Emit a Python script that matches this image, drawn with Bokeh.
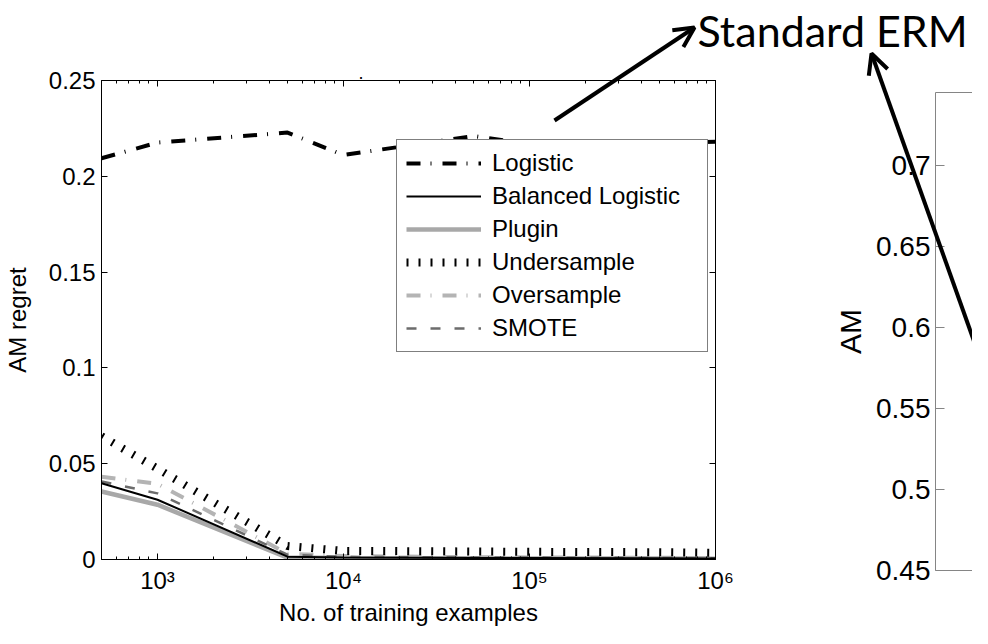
from bokeh.plotting import figure
from bokeh.models import (FixedTicker, LogAxis, LinearAxis, Range1d, Arrow, OpenHead,
                          Label, Legend, LegendItem)
from bokeh.layouts import row
from bokeh.embed import file_html
from bokeh.resources import INLINE

# ---------------- data ----------------
n_train = [500, 1000, 5000, 10000, 50000, 100000, 500000, 1000000]
logistic = [0.2094, 0.2176, 0.2228, 0.2111, 0.2210, 0.2168, 0.2172, 0.2180]
balanced_logistic = [0.0398, 0.0312, 0.0015, 0.0010, 0.0008, 0.0008, 0.0006, 0.0005]
plugin = [0.0355, 0.0286, 0.0010, 0.0008, 0.0006, 0.0005, 0.0005, 0.0004]
undersample = [0.0644, 0.0474, 0.0070, 0.0045, 0.0042, 0.0040, 0.0038, 0.0035]
oversample = [0.0432, 0.0395, 0.0030, 0.0018, 0.0012, 0.0011, 0.0009, 0.0008]
smote = [0.0407, 0.0345, 0.0025, 0.0014, 0.0011, 0.0010, 0.0008, 0.0007]
series_names = ["Logistic", "Balanced Logistic", "Plugin", "Undersample", "Oversample", "SMOTE"]

x_ticks = [1000, 10000, 100000, 1000000]
x_tick_labels = ["10³", "10⁴", "10⁵", "10⁶"]
x_minor_ticks = [m * 10 ** e for e in (2, 3, 4, 5) for m in range(2, 10) if m * 10 ** e > 500]
y_ticks = [0, 0.05, 0.1, 0.15, 0.2, 0.25]
y_tick_labels = ["0", "0.05", "0.1", "0.15", "0.2", "0.25"]
am_ticks = [0.45, 0.5, 0.55, 0.6, 0.65, 0.7]
am_tick_labels = ["0.45", "0.5", "0.55", "0.6", "0.65", "0.7"]

x_label = "No. of training examples"
y_label = "AM regret"
am_label = "AM"
callout = "Standard ERM"

# ---------------- layout constants (page pixels) ----------------
FONT = "Liberation Sans"
W, H = 972, 628
X0, X1, Y0, Y1 = 103, 723, 88, 572          # left chart frame on the page
XMIN, XMAX, YMIN, YMAX = 500, 1e6, 0, 0.25

p = figure(width=W, height=H, x_axis_type="log",
           x_range=Range1d(XMIN, XMAX), y_range=Range1d(YMIN, YMAX),
           output_backend="svg", toolbar_location=None, frame_align=False,
           min_border_left=X0 - 8, min_border_right=8 + W - X1,
           min_border_top=Y0 - 8, min_border_bottom=8 + H - Y1,
           background_fill_color="white", border_fill_color="white",
           outline_line_color="black", outline_line_width=1)
p.grid.visible = False


def style_axis(ax, labels=True, size="24px"):
    ax.axis_line_color = "black"
    ax.axis_line_width = 1
    ax.major_tick_in = 6
    ax.major_tick_out = 0
    ax.minor_tick_in = 3
    ax.minor_tick_out = 0
    ax.major_tick_line_color = "black"
    ax.minor_tick_line_color = "black"
    ax.major_label_text_font = FONT
    ax.major_label_text_font_size = size
    ax.major_label_text_color = "black" if labels else None
    ax.axis_label_text_font = FONT
    ax.axis_label_text_font_size = size
    ax.axis_label_text_font_style = "normal"
    ax.axis_label_text_color = "black"


xa = p.xaxis[0]
xa.ticker = FixedTicker(ticks=x_ticks, minor_ticks=x_minor_ticks)
xa.major_label_overrides = dict(zip(x_ticks, x_tick_labels))
style_axis(xa)
xa.axis_label = x_label
xa.major_label_standoff = 7
xa.axis_label_standoff = 2

ya = p.yaxis[0]
ya.ticker = FixedTicker(ticks=y_ticks, minor_ticks=[])
ya.major_label_overrides = dict(zip(y_ticks, y_tick_labels))
style_axis(ya)
ya.axis_label = y_label
ya.major_label_standoff = 6
ya.axis_label_standoff = 15

top_ax = LogAxis(ticker=FixedTicker(ticks=x_ticks, minor_ticks=x_minor_ticks))
style_axis(top_ax, labels=False)
p.add_layout(top_ax, "above")
right_ax = LinearAxis(ticker=FixedTicker(ticks=y_ticks, minor_ticks=[]))
style_axis(right_ax, labels=False)
p.add_layout(right_ax, "right")

DASHDOT = "14 10 1 11"
r_plug = p.line(n_train, plugin, line_color="#a8a8a8", line_width=4.5)
r_over = p.line(n_train, oversample, line_color="#b4b4b4", line_width=4, line_dash=DASHDOT)
r_smote = p.line(n_train, smote, line_color="#6c6c6c", line_width=2.5, line_dash="10 14")
r_bal = p.line(n_train, balanced_logistic, line_color="black", line_width=2)
r_under = p.line(n_train, undersample, line_color="black", line_width=8, line_dash="2 10")
r_log = p.line(n_train, logistic, line_color="black", line_width=4, line_dash=DASHDOT)

renderers = [r_log, r_bal, r_plug, r_under, r_over, r_smote]
legend = Legend(items=[LegendItem(label=n, renderers=[r]) for n, r in zip(series_names, renderers)],
                location=(398 - X0, Y1 - 365), margin=0, padding=9,
                glyph_width=75, glyph_height=26, label_height=26, label_standoff=11,
                label_width=206, spacing=5,
                label_text_font=FONT, label_text_font_size="24px", label_text_color="black",
                border_line_color="black", border_line_width=1,
                background_fill_color="white", background_fill_alpha=1.0)
p.add_layout(legend)

# ---------------- right (partially visible) chart ----------------
GRAY = "#858585"
RW = 150
q = figure(width=RW, height=H, x_range=Range1d(0, 1), y_range=Range1d(0.45, 0.745),
           output_backend="svg", toolbar_location=None, frame_align=False,
           x_axis_location=None, y_axis_location=None,
           min_border_left=113, min_border_right=0, min_border_top=92, min_border_bottom=58,
           background_fill_color=None, border_fill_color=None, outline_line_color=None)
q.grid.visible = False
am_axis = LinearAxis(ticker=FixedTicker(ticks=am_ticks, minor_ticks=[]),
                     major_label_overrides=dict(zip(am_ticks, am_tick_labels)),
                     axis_label=am_label)
style_axis(am_axis, size="28px")
am_axis.axis_label_text_font_size = "30px"
am_axis.axis_line_color = GRAY
am_axis.major_tick_line_color = GRAY
am_axis.major_tick_in = 9
am_axis.major_label_standoff = 5
am_axis.axis_label_standoff = 6
q.add_layout(am_axis, "left")
for side in ("below", "above"):
    ax = LinearAxis(ticker=FixedTicker(ticks=[], minor_ticks=[]))
    style_axis(ax, labels=False)
    ax.axis_line_color = GRAY
    ax.major_tick_line_color = None
    ax.minor_tick_line_color = None
    q.add_layout(ax, side)
q.styles = {"margin-left": f"-{RW}px"}

# ---------------- slide overlay: call-out text and arrows (canvas pixels) ----------------
o = figure(width=W, height=H, x_range=Range1d(0, W), y_range=Range1d(H, 0),
           output_backend="svg", toolbar_location=None, frame_align=False,
           x_axis_location=None, y_axis_location=None, min_border=0,
           background_fill_color=None, border_fill_color=None, outline_line_color=None)
o.grid.visible = False
o.add_layout(Label(x=705 - 8, y=38 - 8, text=callout, text_font="Lato",
                   text_font_size="43px", text_color="black", text_baseline="alphabetic",
                   text_align="left"))
o.add_layout(Label(x=366 - 8, y=80 - 8, text=".", text_font=FONT,
                   text_font_size="18px", text_color="black", text_baseline="alphabetic"))
o.add_layout(Arrow(x_start=562 - 8, y_start=128 - 8, x_end=702 - 8, y_end=35 - 8,
                   line_color="black", line_width=4,
                   end=OpenHead(size=20, line_width=4, line_color="black")))
o.add_layout(Arrow(x_start=992 - 8, y_start=378 - 8, x_end=879 - 8, y_end=61 - 8,
                   line_color="black", line_width=4,
                   end=OpenHead(size=20, line_width=4, line_color="black")))
o.styles = {"margin-left": f"-{W}px"}

layout = row(p, q, o)
open("out.html", "w").write(file_html(layout, INLINE))
